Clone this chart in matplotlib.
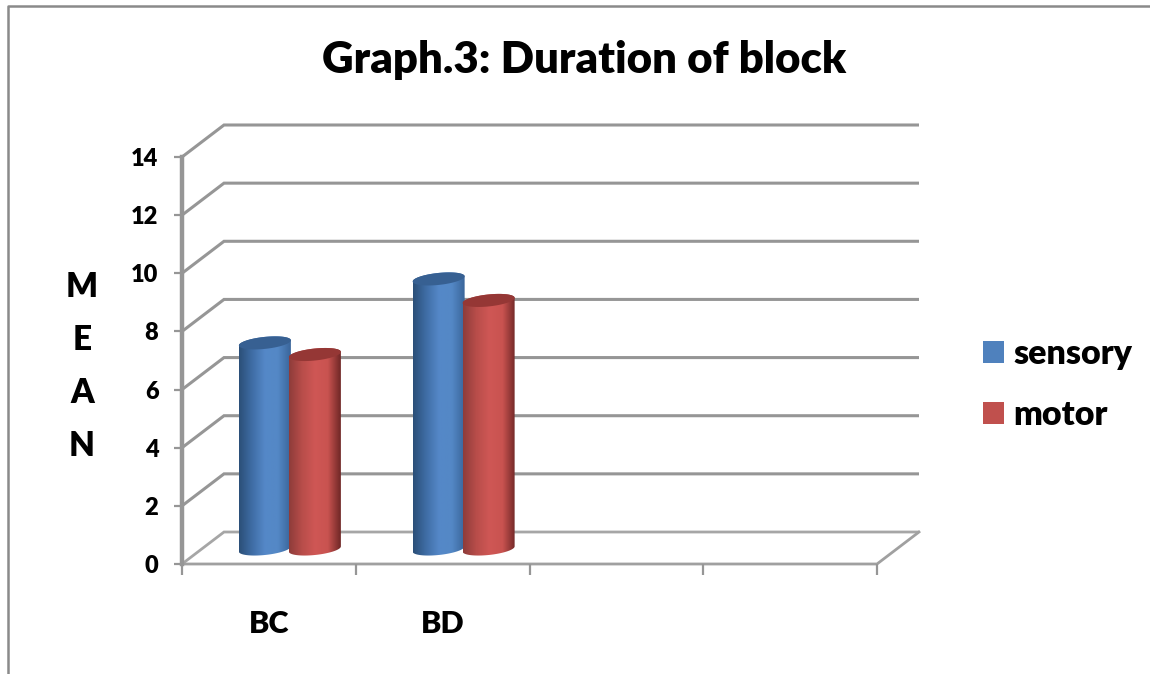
import numpy as np
import matplotlib
matplotlib.use("Agg")
import matplotlib.pyplot as plt
from matplotlib.colors import LinearSegmentedColormap
from matplotlib.lines import Line2D
from matplotlib.patches import Patch, Polygon

categories = ["BC", "BD", "", ""]
series_names = ["sensory", "motor"]
sensory = [7.09, 9.29]
motor = [6.69, 8.55]
y_ticks = [0, 2, 4, 6, 8, 10, 12, 14]

GREY = "#969696"
plt.rcParams["font.family"] = ["Lato", "DejaVu Sans"]
plt.rcParams["font.weight"] = "heavy"

W, H = 1150, 674
fig = plt.figure(figsize=(W / 100, H / 100), dpi=100)

# front plane of the fake 3d box, in pixels
left, right, top, bottom = 182, 877, 157, 564
ax = fig.add_axes([left / W, 1 - bottom / H, (right - left) / W, (bottom - top) / H])
ax.set_xlim(0, len(categories))
ax.set_ylim(0, 14)
ax.autoscale(False)
for s in ax.spines.values():
    s.set_visible(False)
ax.patch.set_visible(False)

px_x = len(categories) / (right - left)
px_y = 14 / (bottom - top)
dx, dy = 42 * px_x, 32 * px_y
n = len(categories)

# walls
for v in y_ticks:
    lw = 2.2
    col = GREY
    if v == 0:
        lw, col = 2.0, "#a6a6a6"
    ax.plot([0, dx, n + dx], [v, v + dy, v + dy], color=col, lw=lw, clip_on=False,
            zorder=1, solid_capstyle="butt", solid_joinstyle="miter")
ax.plot([0, n, n + dx], [0, 0, dy], color="#a0a0a0", lw=2.0, clip_on=False, zorder=1.5)
ax.plot([0, 0], [0, 14], color=GREY, lw=3.2, clip_on=False, zorder=1.5)

# ticks
ax.set_xticks(np.arange(n + 1))
ax.set_xticklabels([])
ax.set_xticks(np.arange(n) + 0.5, minor=True)
ax.set_xticklabels(categories, minor=True, fontsize=22)
ax.tick_params(axis="x", which="major", length=8, width=1.6, color=GREY)
ax.tick_params(axis="x", which="minor", length=0, pad=33)
ax.set_yticks(y_ticks)
ax.set_yticklabels([str(v) for v in y_ticks], fontsize=17)
ax.tick_params(axis="y", length=6, width=1.6, color=GREY, pad=11)

# cylinders
hw = 26 * px_x
b = 6 * px_y
tilt = 0.1 * (px_y / px_x)
t = np.linspace(0, 2 * np.pi, 80)


def ring(xc, yc, t):
    ex = hw * np.cos(t)
    return np.column_stack([xc + ex, yc + b * np.sin(t) + tilt * ex])


def cylinder(xc, val, side, cap, z):
    y0 = 15 * px_y
    # outline: lower half of the foot, upper half of the head
    foot = ring(xc, y0, np.linspace(np.pi, 2 * np.pi, 40))
    head = ring(xc, val + y0, np.linspace(0, np.pi, 40))
    outline = Polygon(np.vstack([foot, head]), closed=True, transform=ax.transData,
                      fc="none", ec="none")
    ax.add_patch(outline)
    cmap = LinearSegmentedColormap.from_list("c", side)
    im = ax.imshow(np.linspace(0, 1, 128)[None, :], cmap=cmap, aspect="auto",
                   extent=[xc - hw, xc + hw, 0, val + y0 + 1], zorder=z)
    im.set_clip_path(outline)
    ax.add_patch(Polygon(ring(xc, val + y0, t), closed=True, fc=cap, ec="none", zorder=z + 0.1))


blue = ["#2b4f78", "#3f6da5", "#5588c8", "#5488c6", "#3a659a"]
red = ["#8e3c3a", "#b84d4a", "#cf5755", "#c95350", "#6f2726"]
off = 25 * px_x
for i in range(len(sensory)):
    xc = i + 0.5 + 21 * px_x
    cylinder(xc - off, sensory[i], blue, "#376092", 3)
    cylinder(xc + off, motor[i], red, "#953735", 4)

ax.set_xlim(0, n)
ax.set_ylim(0, 14)

# vertical axis title, stacked letters
for ch, py in zip("MEAN", [287, 340, 393, 446]):
    fig.text(82 / W, 1 - py / H, ch, ha="center", va="center", fontsize=24)

fig.text(584 / W, 1 - 60 / H, "Graph.3: Duration of block", ha="center", va="center",
         fontsize=31.5)

handles = [Patch(fc="#4f81bd", ec="none"), Patch(fc="#c0504d", ec="none")]
fig.legend(handles, series_names, loc="upper left", bbox_to_anchor=(983 / W, 1 - 338 / H),
           frameon=False, fontsize=24.5, handlelength=0.62, handleheight=0.62, handletextpad=0.28,
           labelspacing=0.85, borderpad=0, borderaxespad=0)

# outer chart border, cropped at right and bottom
fig.add_artist(Line2D([8 / W, 8 / W, 1], [0, 1 - 6 / H, 1 - 6 / H], color="#8a8a8a", lw=1.8))

fig.savefig("out.png", dpi=100)
